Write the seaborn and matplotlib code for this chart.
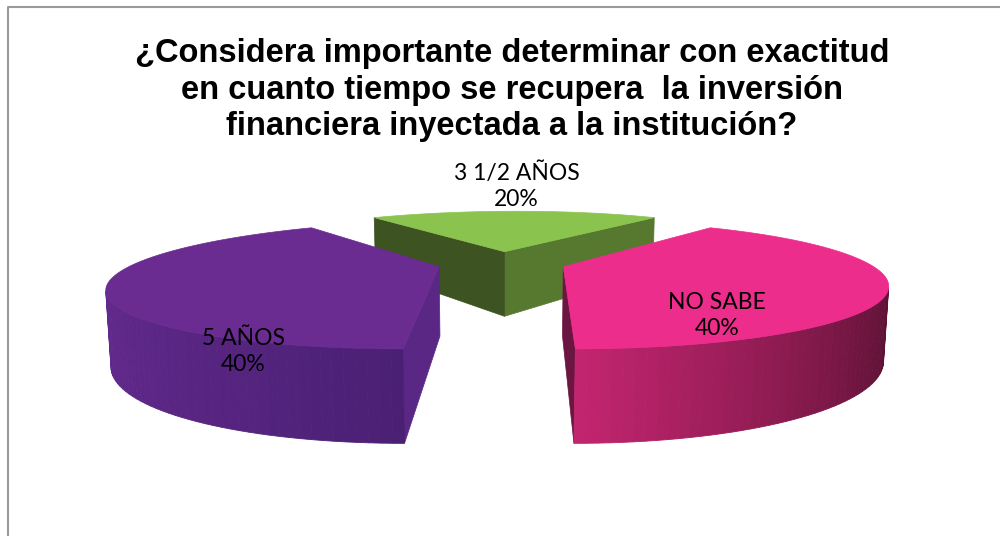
import numpy as np
import matplotlib
matplotlib.use("Agg")
import matplotlib.pyplot as plt
from matplotlib.patches import Polygon
from matplotlib.colors import to_rgb
import seaborn as sns

# ---- data ----
categories = ["NO SABE", "3 1/2 AÑOS", "5 AÑOS"]
percent = [40, 20, 40]
title = ("¿Considera importante determinar con exactitud\n"
         "en cuanto tiempo se recupera  la inversión\n"
         "financiera inyectada a la institución?")

# ---- styles ----
top_colors = ["#EC2D8C", "#8BC34F", "#6A2C91"]
wall_left = ["#C2256F", "#5E7F33", "#62298C"]
wall_right = ["#5E1236", "#3D5321", "#4A2074"]
face_start = ["#6B1541", "#56792F", "#5A2785"]
face_end = ["#6B1541", "#3D5321", "#5A2785"]
label_mode = ["inside", "outside", "inside"]
label_r = [0.5, 1.0, 0.62]
label_z = [0.5, 0.0, 0.95]

sns.set_theme(style="white")
plt.rcParams["font.family"] = ["Lato", "DejaVu Sans"]

# ---- 3d pie projection (pixel coordinates) ----
cx, cy = 502, 263
S = 305
el = np.arcsin(57 / S)
H = 69 / (S * np.cos(el))
k = 0.28
shear = 12
explode = 0.21
start_angle = -90


def proj(X, Y, Z):
    X, Y, Z = np.asarray(X, float), np.asarray(Y, float), np.asarray(Z, float)
    f = 1.0 / (1.0 + k * (Y * np.cos(el) - Z * np.sin(el)))
    px = cx + S * X * f + shear * Y
    py = cy - S * f * (Y * np.sin(el) + Z * np.cos(el))
    return np.column_stack([np.atleast_1d(px), np.atleast_1d(py)])


def area(pts):
    x = pts[:, 0]
    y = -pts[:, 1]
    return 0.5 * np.sum(x * np.roll(y, -1) - np.roll(x, -1) * y)


def mix(c1, c2, w):
    a, b = np.array(to_rgb(c1)), np.array(to_rgb(c2))
    return tuple(a + (b - a) * w)


fig = plt.figure(figsize=(10, 5.36), dpi=100)
ax = fig.add_axes([0, 0, 1, 1])
ax.set_xlim(0, 1000)
ax.set_ylim(536, 0)
ax.axis("off")

vals = np.array(percent, float)
edges = start_angle + 360 * np.concatenate([[0], np.cumsum(vals) / vals.sum()])

slices = []
for i in range(len(vals)):
    a0, a1 = np.radians(edges[i]), np.radians(edges[i + 1])
    mid = (a0 + a1) / 2
    ox, oy = explode * np.cos(mid), explode * np.sin(mid)
    slices.append((oy, i, a0, a1, mid, ox))

# far slices first
for oy, i, a0, a1, mid, ox in sorted(slices, reverse=True):
    t = np.linspace(a0, a1, 90)
    rx, ry = ox + np.cos(t), oy + np.sin(t)
    top = proj(rx, ry, np.zeros_like(t))
    bot = proj(rx, ry, -H * np.ones_like(t))
    apex_t = proj(ox, oy, 0)[0]
    apex_b = proj(ox, oy, -H)[0]

    # radial faces
    f0 = np.array([apex_t, apex_b, bot[0], top[0]])
    if area(f0) > 0:
        ax.add_patch(Polygon(f0, closed=True, fc=face_start[i], ec=face_start[i], lw=0.5))
    f1 = np.array([top[-1], bot[-1], apex_b, apex_t])
    if area(f1) > 0:
        ax.add_patch(Polygon(f1, closed=True, fc=face_end[i], ec=face_end[i], lw=0.5))

    # outer wall, shaded left to right
    segs = []
    for j in range(len(t) - 1):
        q = np.array([top[j], bot[j], bot[j + 1], top[j + 1]])
        if area(q) > 0:
            segs.append((j, q))
    if segs:
        cs = [np.cos(t[j]) for j, _ in segs]
        cmin, cmax = min(cs), max(cs)
        for (j, q), c in zip(segs, cs):
            w = 0 if cmax == cmin else (c - cmin) / (cmax - cmin)
            col = mix(wall_left[i], wall_right[i], w)
            ax.add_patch(Polygon(q, closed=True, fc=col, ec=col, lw=0.6))

    # top surface
    ax.add_patch(Polygon(np.vstack([apex_t, top]), closed=True,
                         fc=top_colors[i], ec=top_colors[i], lw=0.5))

    # data label
    text = f"{categories[i]}\n{percent[i]}%"
    if label_mode[i] == "inside":
        r = label_r[i]
        p = proj(ox + r * np.cos(mid), oy + r * np.sin(mid), -H * label_z[i])[0]
        ax.text(p[0], p[1] + 3, text, ha="center", va="center", fontsize=16.5,
                color="black", linespacing=1.3)
    else:
        p = proj(ox + np.cos(mid), oy + np.sin(mid), 0)[0]
        ax.text(p[0], p[1] - 1, text, ha="center", va="bottom", fontsize=16.5,
                color="black", linespacing=1.3)

# chart frame
ax.plot([8, 8, 1000], [536, 7, 7], color="#9A9A9A", lw=1.5, clip_on=False)

fig.text(0.512, 1 - 90 / 536, title, ha="center", va="center", fontsize=23.5,
         fontweight="bold", family=["Liberation Sans", "DejaVu Sans"],
         linespacing=1.22, color="black")

fig.savefig("out.png", dpi=100)
